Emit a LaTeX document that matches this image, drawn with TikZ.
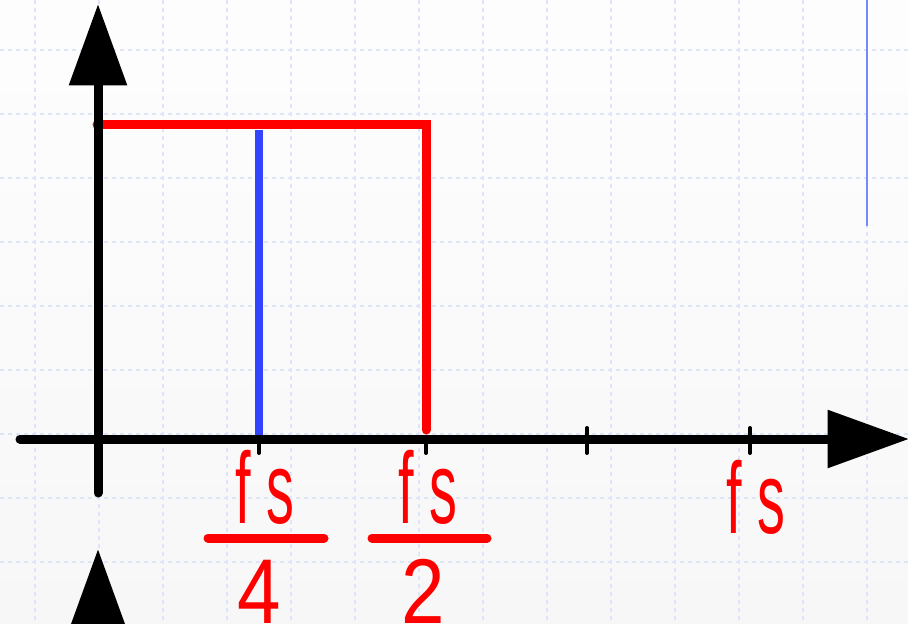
\documentclass[tikz,border=0pt]{standalone}
\usepackage{fontspec}
\usetikzlibrary{arrows.meta}
\newfontfamily\lblfont[FakeStretch=0.55]{Liberation Sans}
\newfontfamily\numfont[FakeStretch=0.85]{Liberation Sans}
\definecolor{gridblue}{RGB}{222,228,250}
\definecolor{specblue}{RGB}{51,68,255}
\definecolor{thinblue}{RGB}{120,136,255}
\tikzset{
  axis/.style={line width=6.75pt, line cap=round, -{Triangle[length=61pt, width=42pt]}},
  tick/.style={line width=3pt, line cap=round},
  lbl/.style={text=red, inner sep=0pt, anchor=base, font=\lblfont\fontsize{76}{80}\selectfont},
  num/.style={text=red, inner sep=0pt, anchor=base, font=\numfont\fontsize{69}{72}\selectfont},
  bar/.style={red, line width=6.75pt, line cap=round}
}
\begin{document}
\begin{tikzpicture}[x=0.75pt, y=-0.75pt]
\useasboundingbox (0,0) rectangle (908,624);
\clip (0,0) rectangle (908,624);
\shade[top color=white!60!gray!3, bottom color=blue!4!gray!6] (0,0) rectangle (908,624);
\foreach \gx in {35,99,...,899}
  \draw[gridblue, line width=1pt, dashed] (\gx,0) -- (\gx,624);
\foreach \gy in {50,114,...,624}
  \draw[gridblue, line width=1pt, dashed] (0,\gy) -- (908,\gy);

\draw[thinblue, line width=1.5pt] (867,0) -- (867,226);

\coordinate (o) at (98,439);
\coordinate (ytop) at (98,4);
\coordinate (ybot) at (98,493);
\coordinate (xleft) at (20,439);
\coordinate (xright) at (909,439);

\draw[specblue, line width=6pt] (259,130) -- (259,436);
\draw[red, line width=6.75pt, line cap=round] (97,125) -- (426,125) -- (426,430);

\draw[axis] (ybot) -- (ytop);
\draw[axis] (xleft) -- (xright);
\draw[axis] (98,720) -- (98,549);

\draw[tick] (259,439) -- (259,453);
\draw[tick] (426,439) -- (426,453);
\draw[tick] (587,428) -- (587,453);
\draw[tick] (750,428) -- (750,453);

\node[lbl] (fsq) at (265,523) {f s};
\draw[bar] (208,538) -- (324,538);
\node[num] (four) at (259,623) {4};

\node[lbl] (fsh) at (428,523) {f s};
\draw[bar] (372,538) -- (487,538);
\node[num] (two) at (423,623) {2};

\node[lbl] (fs) at (756,533) {f s};
\end{tikzpicture}
\end{document}
